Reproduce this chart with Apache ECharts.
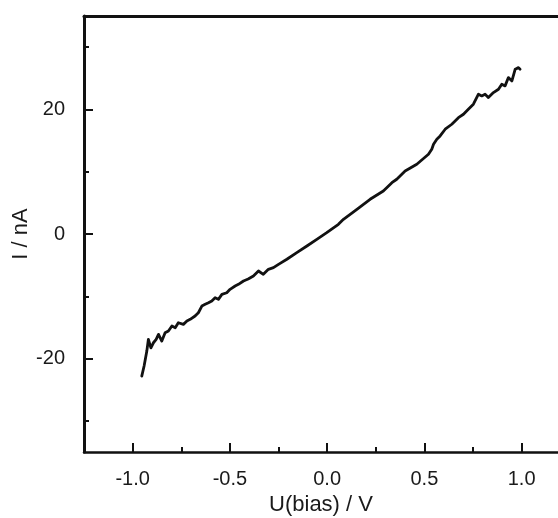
<!DOCTYPE html>
<html>
<head>
<meta charset="utf-8">
<script src="https://cdn.jsdelivr.net/npm/echarts@6/dist/echarts.min.js"></script>
<style>
html,body{margin:0;padding:0;background:#fff;}
#chart{width:558px;height:518px;}
</style>
</head>
<body>
<div id="chart"></div>
<script>
// Bias voltage (V)
const biasV = [-0.953,-0.941,-0.927,-0.919,-0.906,-0.893,-0.879,-0.867,-0.850,-0.833,-0.816,-0.798,-0.781,-0.765,-0.739,-0.721,-0.704,-0.679,-0.662,-0.644,-0.627,-0.610,-0.593,-0.576,-0.559,-0.541,-0.516,-0.499,-0.473,-0.456,-0.430,-0.406,-0.379,-0.353,-0.328,-0.302,-0.276,-0.250,-0.207,-0.156,-0.104,-0.053,-0.002,0.058,0.084,0.153,0.221,0.289,0.333,0.358,0.401,0.461,0.521,0.538,0.547,0.564,0.581,0.607,0.641,0.675,0.701,0.726,0.752,0.778,0.795,0.812,0.829,0.855,0.881,0.898,0.915,0.932,0.950,0.967,0.984,0.992];
// Current (nA)
const currentNA = [-22.81,-21.20,-18.80,-16.92,-18.27,-17.46,-16.92,-16.11,-17.19,-15.86,-15.58,-14.78,-15.05,-14.25,-14.51,-13.98,-13.70,-13.17,-12.64,-11.57,-11.29,-11.04,-10.76,-10.23,-10.49,-9.69,-9.43,-8.88,-8.35,-8.08,-7.55,-7.23,-6.75,-5.94,-6.47,-5.67,-5.41,-4.87,-4.06,-3.00,-1.93,-0.85,0.21,1.56,2.36,3.97,5.57,6.91,8.24,8.79,10.12,11.20,12.80,13.61,14.41,15.21,15.74,16.82,17.62,18.68,19.23,20.03,20.84,22.44,22.17,22.44,21.90,22.70,23.24,24.05,23.78,25.11,24.58,26.46,26.71,26.46];
const xMajorTicks = [-1.0, -0.5, 0.0, 0.5, 1.0];
const xMinorTicks = [-0.75, -0.25, 0.25, 0.75];
const yMajorTicks = [-20, 0, 20];
const yMinorTicks = [-30, -10, 10, 30];
const xName = 'U(bias) / V';
const yName = 'I / nA';

const FONT = '"Liberation Sans", Arial, sans-serif';
const INK = '#111';
const seriesData = biasV.map((v, i) => [v, currentNA[i]]);

const chart = echarts.init(document.getElementById('chart'), null, {renderer: 'canvas'});
const xBase = {type: 'value', min: -1.25, max: 1.187, splitLine: {show: false}};
const yBase = {type: 'value', min: -35, max: 35, splitLine: {show: false}};
chart.setOption({
  animation: false,
  backgroundColor: '#fff',
  grid: {left: 84, right: 0, top: 16, bottom: 66, containLabel: false, outerBoundsMode: 'none'},
  xAxis: [
    Object.assign({}, xBase, {
      position: 'bottom',
      name: xName, nameLocation: 'middle', nameGap: 42, nameMoveOverlap: false,
      nameTextStyle: {fontFamily: FONT, fontSize: 22, color: '#1a1a1a'},
      axisLine: {show: true, onZero: false, lineStyle: {color: INK, width: 2.5}},
      axisTick: {show: true, inside: true, length: 9, customValues: xMajorTicks, lineStyle: {color: INK, width: 2}},
      axisLabel: {show: true, margin: 17, customValues: xMajorTicks, formatter: v => Number(v).toFixed(1), fontFamily: FONT, fontSize: 20, color: '#1a1a1a'}
    }),
    Object.assign({}, xBase, {
      position: 'bottom',
      axisLine: {show: false, onZero: false},
      axisTick: {show: true, inside: true, length: 5, customValues: xMinorTicks, lineStyle: {color: INK, width: 2}},
      axisLabel: {show: false}
    }),
    Object.assign({}, xBase, {
      position: 'top',
      axisLine: {show: true, onZero: false, lineStyle: {color: INK, width: 3}},
      axisTick: {show: false},
      axisLabel: {show: false}
    })
  ],
  yAxis: [
    Object.assign({}, yBase, {
      position: 'left',
      name: yName, nameLocation: 'middle', nameGap: 52, nameRotate: 90, nameMoveOverlap: false,
      nameTextStyle: {fontFamily: FONT, fontSize: 22, color: '#1a1a1a'},
      axisLine: {show: true, onZero: false, lineStyle: {color: INK, width: 3}},
      axisTick: {show: true, inside: true, length: 9, customValues: yMajorTicks, lineStyle: {color: INK, width: 2}},
      axisLabel: {show: true, margin: 19, customValues: yMajorTicks, fontFamily: FONT, fontSize: 20, color: '#1a1a1a'}
    }),
    Object.assign({}, yBase, {
      position: 'left',
      axisLine: {show: false, onZero: false},
      axisTick: {show: true, inside: true, length: 5, customValues: yMinorTicks, lineStyle: {color: INK, width: 2}},
      axisLabel: {show: false}
    })
  ],
  series: [{
    type: 'line',
    xAxisIndex: 0, yAxisIndex: 0,
    data: seriesData,
    showSymbol: false,
    smooth: false,
    lineStyle: {color: INK, width: 2.8, join: 'round', cap: 'round'}
  }]
});
</script>
</body>
</html>
